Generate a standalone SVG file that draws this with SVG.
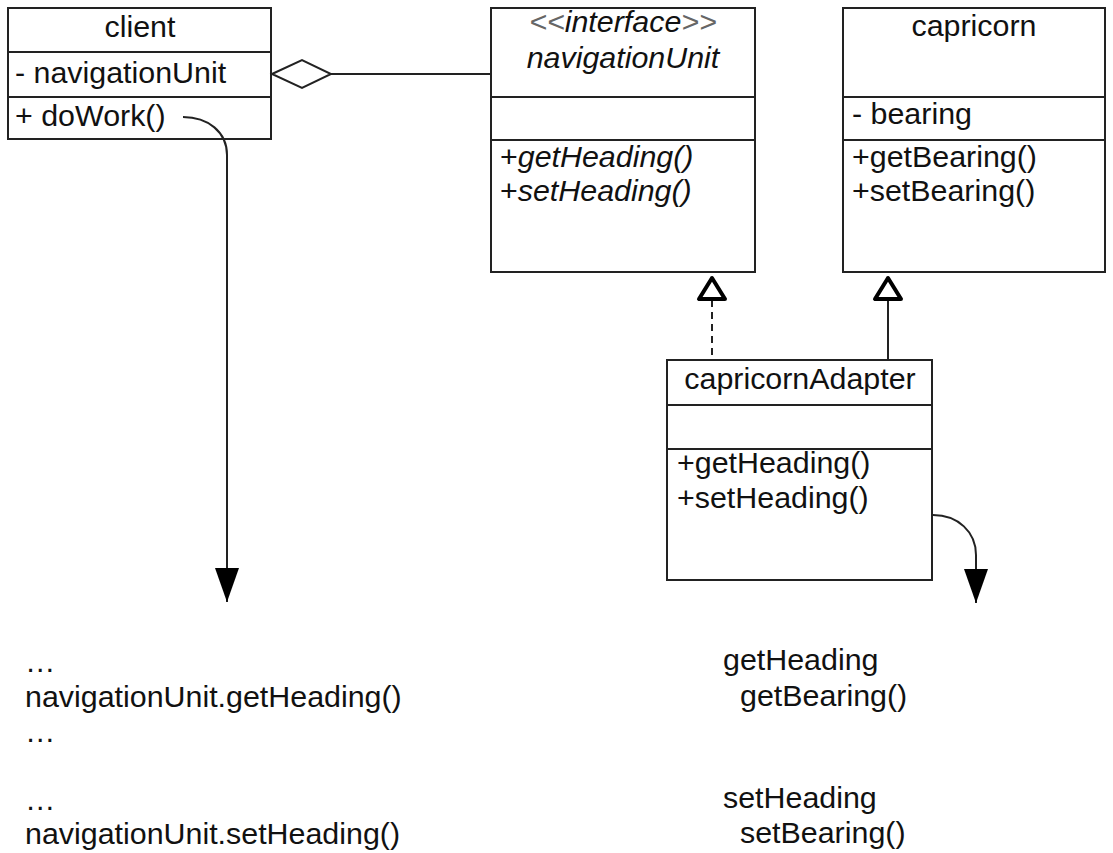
<svg xmlns="http://www.w3.org/2000/svg" width="1113" height="853" viewBox="0 0 1113 853">
<defs>
<style>
.box{fill:#fff;stroke:#222;stroke-width:2}
.sep{stroke:#222;stroke-width:2}
.t{font-family:"Liberation Sans",Arial,sans-serif;font-size:30.4px;fill:#111}
.c{text-anchor:middle}
.i{font-style:italic}
.ln{fill:none;stroke:#222;stroke-width:2}
.tri{fill:#fff;stroke:#000;stroke-width:4;stroke-linejoin:round}
</style>
<marker id="ah" markerWidth="34" markerHeight="24" refX="34" refY="12" orient="auto" markerUnits="userSpaceOnUse" viewBox="0 0 34 24">
<path d="M0,0 L34,12 L0,24 Z" fill="#000"/>
</marker>
</defs>
<rect width="1113" height="853" fill="#fff"/>

<g id="client">
<rect class="box" x="8" y="8" width="263" height="131"/>
<line class="sep" x1="8" y1="52" x2="271" y2="52"/>
<line class="sep" x1="8" y1="97" x2="271" y2="97"/>
<text class="t c" x="140" y="37">client</text>
<text class="t" x="15" y="83">- navigationUnit</text>
<text class="t" x="15" y="126">+ doWork()</text>
</g>

<g id="navigationUnit">
<rect class="box" x="491" y="8" width="264" height="264"/>
<line class="sep" x1="491" y1="97" x2="755" y2="97"/>
<line class="sep" x1="491" y1="140" x2="755" y2="140"/>
<text class="t c i" x="623" y="32"><tspan fill="#666">&lt;&lt;</tspan>interface<tspan fill="#666">&gt;&gt;</tspan></text>
<text class="t c i" x="623" y="68">navigationUnit</text>
<text class="t" x="500" y="167">+<tspan class="i">getHeading()</tspan></text>
<text class="t" x="500" y="201">+<tspan class="i">setHeading()</tspan></text>
</g>

<g id="capricorn">
<rect class="box" x="843" y="8" width="262" height="264"/>
<line class="sep" x1="843" y1="97" x2="1105" y2="97"/>
<line class="sep" x1="843" y1="140" x2="1105" y2="140"/>
<text class="t c" x="974" y="36">capricorn</text>
<text class="t" x="852" y="124">- bearing</text>
<text class="t" x="852" y="167">+getBearing()</text>
<text class="t" x="852" y="201">+setBearing()</text>
</g>

<g id="capricornAdapter">
<rect class="box" x="667" y="360" width="265" height="220"/>
<line class="sep" x1="667" y1="405" x2="932" y2="405"/>
<line class="sep" x1="667" y1="449" x2="932" y2="449"/>
<text class="t c" x="800" y="389">capricornAdapter</text>
<text class="t" x="677" y="473">+getHeading()</text>
<text class="t" x="677" y="508">+setHeading()</text>
</g>

<g id="connectors">
<line class="ln" x1="331" y1="74" x2="491" y2="74"/>
<polygon points="272,74 302,60 331,74 302,88" fill="#fff" stroke="#222" stroke-width="2"/>
<line class="ln" x1="712" y1="300" x2="712" y2="360" stroke-dasharray="7,5"/>
<polygon class="tri" points="712,278 699,299 725,299"/>
<line class="ln" x1="888" y1="300" x2="888" y2="360"/>
<polygon class="tri" points="888,278 875,299 901,299"/>
<path class="ln" d="M183,117 C208,117 227,132 227,155 L227,602" marker-end="url(#ah)"/>
<path class="ln" d="M933,515 C958,515 976,532 976,555 L976,603" marker-end="url(#ah)"/>
</g>

<g id="notes">
<text class="t" x="25" y="672">…</text>
<text class="t" x="25" y="707">navigationUnit.getHeading()</text>
<text class="t" x="25" y="742">…</text>
<text class="t" x="25" y="810">…</text>
<text class="t" x="25" y="844">navigationUnit.setHeading()</text>
<text class="t" x="723" y="670">getHeading</text>
<text class="t" x="740" y="706">getBearing()</text>
<text class="t" x="723" y="808">setHeading</text>
<text class="t" x="740" y="843">setBearing()</text>
</g>
</svg>
